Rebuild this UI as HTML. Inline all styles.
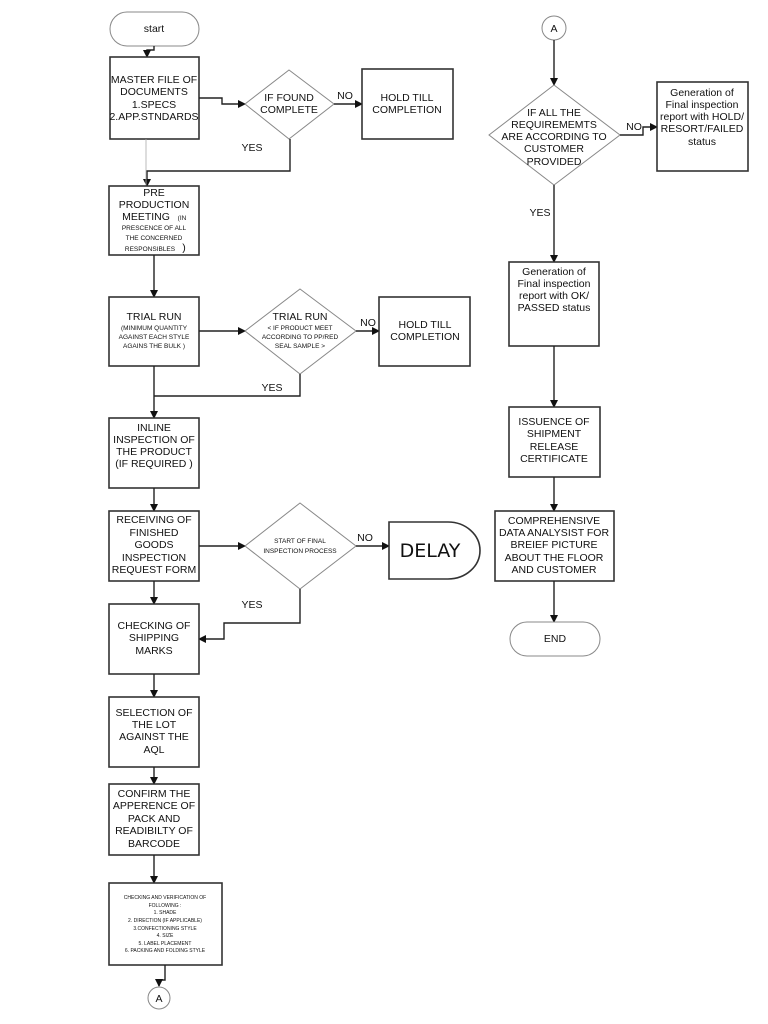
<!DOCTYPE html>
<html><head><meta charset="utf-8"><style>
html,body{margin:0;padding:0;background:#fff;}
svg{display:block;font-family:"Liberation Sans",Arial,sans-serif;}
text{fill:#111;text-anchor:middle;}
.b{fill:#fff;stroke:#333;stroke-width:1.6;}
.d{fill:#fff;stroke:#888;stroke-width:1;}
.l{fill:none;stroke:#222;stroke-width:1.4;}
.t{font-size:10.5px;}
.s{font-size:6.5px;}
.xs{font-size:5px;}
</style></head><body>
<svg width="768" height="1024" viewBox="0 0 768 1024" xmlns="http://www.w3.org/2000/svg">
<defs><marker id="a" markerWidth="8" markerHeight="8" refX="7" refY="4" orient="auto" markerUnits="userSpaceOnUse"><path d="M0,0 L8,4 L0,8 z" fill="#111"/></marker></defs>

<!-- start -->
<rect x="110" y="12" width="89" height="34" rx="17" class="d"/>
<text x="154" y="32" class="t">start</text>
<path d="M154,46 V50 H147 V57" class="l" marker-end="url(#a)"/>

<rect x="110" y="57" width="89" height="82" class="b"/>
<text class="t" x="154" y="83">MASTER FILE OF</text>
<text class="t" x="154" y="95">DOCUMENTS</text>
<text class="t" x="154" y="108">1.SPECS</text>
<text class="t" x="154" y="120">2.APP.STNDARDS</text>
<path d="M199,98 H222 V104 H245" class="l" marker-end="url(#a)"/>

<polygon points="289,70 334,104 289,139 245,104" class="d"/>
<text class="t" x="289" y="101">IF FOUND</text>
<text class="t" x="289" y="113">COMPLETE</text>
<path d="M334,104 H362" class="l" marker-end="url(#a)"/>
<text class="t" x="345" y="99">NO</text>
<rect x="362" y="69" width="91" height="70" class="b"/>
<text class="t" x="407" y="101">HOLD TILL</text>
<text class="t" x="407" y="113">COMPLETION</text>
<text class="t" x="252" y="151">YES</text>
<path d="M290,139 V171 H147 V186" class="l" marker-end="url(#a)"/>
<path d="M146,139 V186" stroke="#aaa" stroke-width="0.8" fill="none"/>

<rect x="109" y="186" width="90" height="69" class="b"/>
<text class="t" x="154" y="196">PRE</text>
<text class="t" x="154" y="208">PRODUCTION</text>
<text class="t" x="146" y="220">MEETING</text><text class="s" x="182" y="220">(IN</text>
<text class="s" x="154" y="230">PRESCENCE OF ALL</text>
<text class="s" x="154" y="240">THE CONCERNED</text>
<text class="s" x="150" y="251">RESPONSIBLES</text><text class="t" x="184" y="251">)</text>
<path d="M154,255 V297" class="l" marker-end="url(#a)"/>

<rect x="109" y="297" width="90" height="69" class="b"/>
<text class="t" x="154" y="320">TRIAL RUN</text>
<text class="s" x="154" y="330">(MINIMUM QUANTITY</text>
<text class="s" x="154" y="339">AGAINST EACH STYLE</text>
<text class="s" x="154" y="348">AGAINS THE BULK  )</text>
<path d="M199,331 H245" class="l" marker-end="url(#a)"/>
<polygon points="300,289 356,331 300,374 245,331" class="d"/>
<text class="t" x="300" y="320">TRIAL RUN</text>
<text class="s" x="300" y="330">&lt; IF PRODUCT MEET</text>
<text class="s" x="300" y="339">ACCORDING TO PP/RED</text>
<text class="s" x="300" y="348">SEAL SAMPLE &gt;</text>
<path d="M356,331 H379" class="l" marker-end="url(#a)"/>
<text class="t" x="368" y="326">NO</text>
<rect x="379" y="297" width="91" height="69" class="b"/>
<text class="t" x="425" y="328">HOLD TILL</text>
<text class="t" x="425" y="340">COMPLETION</text>
<text class="t" x="272" y="391">YES</text>
<path d="M300,374 V396 H154" class="l"/>
<path d="M154,366 V418" class="l" marker-end="url(#a)"/>

<rect x="109" y="418" width="90" height="70" class="b"/>
<text class="t" x="154" y="431">INLINE</text>
<text class="t" x="154" y="443">INSPECTION OF</text>
<text class="t" x="154" y="455">THE PRODUCT</text>
<text class="t" x="154" y="467">(IF REQUIRED )</text>
<path d="M154,488 V511" class="l" marker-end="url(#a)"/>

<rect x="109" y="511" width="90" height="70" class="b"/>
<text class="t" x="154" y="523">RECEIVING OF</text>
<text class="t" x="154" y="536">FINISHED</text>
<text class="t" x="154" y="548">GOODS</text>
<text class="t" x="154" y="561">INSPECTION</text>
<text class="t" x="154" y="573">REQUEST FORM</text>
<path d="M199,546 H245" class="l" marker-end="url(#a)"/>
<polygon points="300,503 356,546 300,589 245,546" class="d"/>
<text class="s" x="300" y="543">START OF FINAL</text>
<text class="s" x="300" y="553">INSPECTION PROCESS</text>
<path d="M356,546 H389" class="l" marker-end="url(#a)"/>
<text class="t" x="365" y="541">NO</text>
<path d="M389,522 H448 A32,28.5 0 0 1 448,579 H389 Z" class="b"/>
<text x="430" y="557" style="font-size:19px;font-family:'DejaVu Sans',sans-serif">DELAY</text>
<text class="t" x="252" y="608">YES</text>
<path d="M300,589 V623 H224 V639 H199" class="l" marker-end="url(#a)"/>
<path d="M154,581 V604" class="l" marker-end="url(#a)"/>

<rect x="109" y="604" width="90" height="70" class="b"/>
<text class="t" x="154" y="629">CHECKING OF</text>
<text class="t" x="154" y="641">SHIPPING</text>
<text class="t" x="154" y="654">MARKS</text>
<path d="M154,674 V697" class="l" marker-end="url(#a)"/>

<rect x="109" y="697" width="90" height="70" class="b"/>
<text class="t" x="154" y="716">SELECTION OF</text>
<text class="t" x="154" y="728">THE LOT</text>
<text class="t" x="154" y="740">AGAINST THE</text>
<text class="t" x="154" y="753">AQL</text>
<path d="M154,767 V784" class="l" marker-end="url(#a)"/>

<rect x="109" y="784" width="90" height="71" class="b"/>
<text class="t" x="154" y="797">CONFIRM THE</text>
<text class="t" x="154" y="809">APPERENCE OF</text>
<text class="t" x="154" y="822">PACK AND</text>
<text class="t" x="154" y="834">READIBILTY OF</text>
<text class="t" x="154" y="847">BARCODE</text>
<path d="M154,855 V883" class="l" marker-end="url(#a)"/>

<rect x="109" y="883" width="113" height="82" class="b"/>
<text class="xs" x="165" y="899">CHECKING AND VERIFICATION OF</text>
<text class="xs" x="165" y="907">FOLLOWING :</text>
<text class="xs" x="165" y="914">1. SHADE</text>
<text class="xs" x="165" y="922">2. DIRECTION (IF APPLICABLE)</text>
<text class="xs" x="165" y="930">3.CONFECTIONING STYLE</text>
<text class="xs" x="165" y="937">4. SIZE</text>
<text class="xs" x="165" y="945">5. LABEL PLACEMENT</text>
<text class="xs" x="165" y="952">6. PACKING AND FOLDING STYLE</text>
<path d="M165,965 V980 H159 V986" class="l" marker-end="url(#a)"/>
<circle cx="159" cy="998" r="11" class="d"/>
<text class="t" x="159" y="1002">A</text>

<!-- right column -->
<circle cx="554" cy="28" r="12" class="d"/>
<text class="t" x="554" y="32">A</text>
<path d="M554,40 V85" class="l" marker-end="url(#a)"/>
<polygon points="554,85 620,135 554,185 489,135" class="d"/>
<text class="t" x="554" y="116">IF ALL THE</text>
<text class="t" x="554" y="128">REQUIREMEMTS</text>
<text class="t" x="554" y="140">ARE ACCORDING TO</text>
<text class="t" x="554" y="152">CUSTOMER</text>
<text class="t" x="554" y="165">PROVIDED</text>
<path d="M620,135 H643 V127 H657" class="l" marker-end="url(#a)"/>
<text class="t" x="634" y="130">NO</text>
<rect x="657" y="82" width="91" height="89" class="b"/>
<text class="t" x="702" y="96">Generation of</text>
<text class="t" x="702" y="108">Final inspection</text>
<text class="t" x="702" y="120">report with HOLD/</text>
<text class="t" x="702" y="132">RESORT/FAILED</text>
<text class="t" x="702" y="145">status</text>
<text class="t" x="540" y="216">YES</text>
<path d="M554,185 V262" class="l" marker-end="url(#a)"/>

<rect x="509" y="262" width="90" height="84" class="b"/>
<text class="t" x="554" y="275">Generation of</text>
<text class="t" x="554" y="287">Final inspection</text>
<text class="t" x="554" y="299">report with OK/</text>
<text class="t" x="554" y="311">PASSED status</text>
<path d="M554,346 V407" class="l" marker-end="url(#a)"/>

<rect x="509" y="407" width="91" height="70" class="b"/>
<text class="t" x="554" y="425">ISSUENCE OF</text>
<text class="t" x="554" y="437">SHIPMENT</text>
<text class="t" x="554" y="450">RELEASE</text>
<text class="t" x="554" y="462">CERTIFICATE</text>
<path d="M554,477 V511" class="l" marker-end="url(#a)"/>

<rect x="495" y="511" width="119" height="70" class="b"/>
<text class="t" x="554" y="524">COMPREHENSIVE</text>
<text class="t" x="554" y="536">DATA ANALYSIST FOR</text>
<text class="t" x="554" y="548">BREIEF PICTURE</text>
<text class="t" x="554" y="561">ABOUT THE FLOOR</text>
<text class="t" x="554" y="573">AND CUSTOMER</text>
<path d="M554,581 V622" class="l" marker-end="url(#a)"/>
<rect x="510" y="622" width="90" height="34" rx="17" class="d"/>
<text class="t" x="555" y="642">END</text>
</svg>
</body></html>
